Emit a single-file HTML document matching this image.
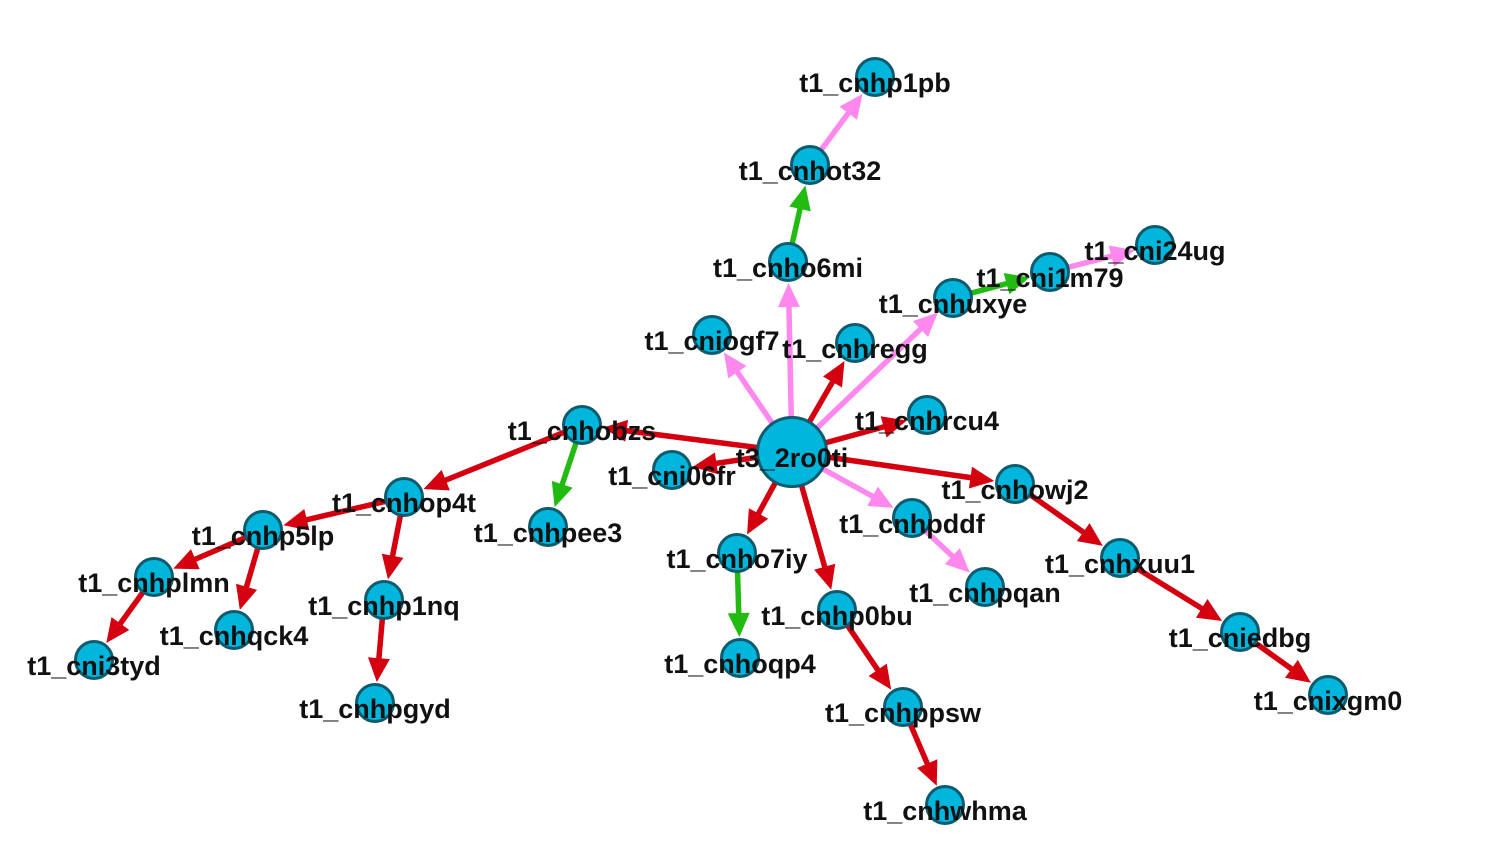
<!DOCTYPE html>
<html><head><meta charset="utf-8"><style>
html,body{margin:0;padding:0;background:#fff;}
svg{display:block;}
text{font-family:"Liberation Sans",Arial,sans-serif;font-weight:bold;font-size:27px;fill:#111;}
</style></head><body>
<svg id="g" width="1490" height="868" viewBox="0 0 1490 868">
<g id="edges"></g>
<g id="nodes"></g>
<g id="labels"></g>
</svg>
<script>
const nodeIds=["t3_2ro0ti","t1_cnhobzs","t1_cnhop4t","t1_cnhp5lp","t1_cnhplmn","t1_cni3tyd","t1_cnhqck4","t1_cnhp1nq","t1_cnhpgyd","t1_cnhpee3","t1_cni06fr","t1_cnho7iy","t1_cnhoqp4","t1_cnhp0bu","t1_cnhppsw","t1_cnhwhma","t1_cnhpddf","t1_cnhpqan","t1_cnhowj2","t1_cnhxuu1","t1_cniedbg","t1_cnixgm0","t1_cnhrcu4","t1_cnhregg","t1_cnhuxye","t1_cni1m79","t1_cni24ug","t1_cniogf7","t1_cnho6mi","t1_cnhot32","t1_cnhp1pb"];
const nodeX=[792,582,404,263,154,94,234,384,375,548,672,737,740,837,903,945,912,985,1015,1120,1240,1328,927,855,953,1050,1155,712,788,810,875];
const nodeY=[452,425,497,530,577,660,630,600,703,527,470,553,658,610,707,805,518,587,484,558,632,695,415,343,298,272,245,335,262,165,77];
const edgeSrc=[0,0,0,0,0,0,0,0,0,0,0,1,1,2,2,3,3,4,7,11,13,14,16,18,19,20,24,25,28,29];
const edgeTgt=[1,10,11,13,16,18,22,23,24,28,27,2,9,3,7,4,6,5,8,12,14,15,17,19,20,21,25,26,29,30];
const edgeType=["r","r","r","r","p","r","r","r","p","p","p","r","g","r","r","r","r","r","r","g","r","r","p","r","r","r","g","p","g","p"];
const colors={r:"#d4000f",p:"#ff88ee",g:"#22bb11"};
const NS="http://www.w3.org/2000/svg";
const E=document.getElementById('edges'),N=document.getElementById('nodes'),L=document.getElementById('labels');
function rad(i){return i===0?36:20;}
for(let k=0;k<edgeSrc.length;k++){
  const s=edgeSrc[k],t=edgeTgt[k];
  const x1=nodeX[s],y1=nodeY[s],x2=nodeX[t],y2=nodeY[t];
  const dx=x2-x1,dy=y2-y1,d=Math.hypot(dx,dy),ux=dx/d,uy=dy/d;
  const tx=x2-ux*(rad(t)+1),ty=y2-uy*(rad(t)+1);
  const bx=tx-ux*24,by=ty-uy*24;
  const c=colors[edgeType[k]];
  const ln=document.createElementNS(NS,'line');
  
  
  ln.setAttribute('x1',x1);ln.setAttribute('y1',y1);ln.setAttribute('x2',bx+ux*2);ln.setAttribute('y2',by+uy*2);
  ln.setAttribute('stroke',c);ln.setAttribute('stroke-width',5.5);
  E.appendChild(ln);
  const ar=document.createElementNS(NS,'polygon');
  
  
  const px=-uy*11,py=ux*11;
  ar.setAttribute('points',`${tx},${ty} ${bx+px},${by+py} ${bx-px},${by-py}`);
  ar.setAttribute('fill',c);
  E.appendChild(ar);
}
for(let i=0;i<nodeIds.length;i++){
  const c=document.createElementNS(NS,'circle');
  
  
  c.setAttribute('cx',nodeX[i]);c.setAttribute('cy',nodeY[i]);c.setAttribute('r',rad(i)-1.5);
  c.setAttribute('fill','#00b6dc');c.setAttribute('stroke','#0c5b6e');c.setAttribute('stroke-width',3);
  N.appendChild(c);
  const t=document.createElementNS(NS,'text');
  
  
  t.setAttribute('x',nodeX[i]);t.setAttribute('y',nodeY[i]+15);
  t.setAttribute('text-anchor','middle');
  t.textContent=nodeIds[i];
  L.appendChild(t);
}
</script>
</body></html>
